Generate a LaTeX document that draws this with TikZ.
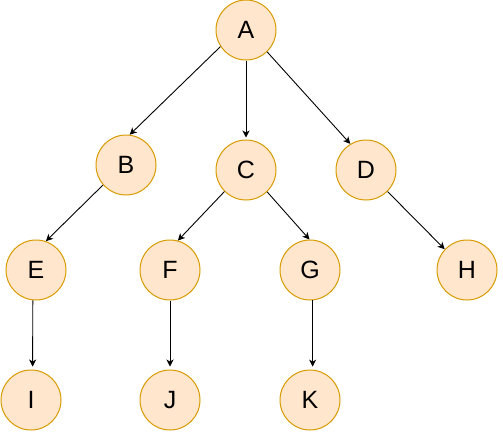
\documentclass[tikz,border=0pt]{standalone}
\usepackage{fontspec}
\setmainfont{Liberation Sans}
\usetikzlibrary{arrows.meta}
\definecolor{nodefill}{HTML}{FFE6CC}
\definecolor{nodeline}{HTML}{D79B00}
\tikzset{
  treenode/.style={circle, draw=nodeline, fill=nodefill, line width=1pt,
    minimum size=60pt, inner sep=0pt, font=\fontsize{25}{25}\selectfont, text depth=0pt},
  link/.style={draw=black, line width=0.9pt, -{Stealth[length=7pt,width=7pt,inset=2pt]}}
}
\begin{document}
\begin{tikzpicture}[x=1pt,y=-1pt]
\useasboundingbox (0,0) rectangle (503,431);
\node[treenode] (A) at (246,30) {A};
\node[treenode] (B) at (126,165) {B};
\node[treenode] (C) at (246,170) {C};
\node[treenode] (D) at (366,170) {D};
\node[treenode] (E) at (36,270) {E};
\node[treenode] (F) at (170,270) {F};
\node[treenode] (G) at (310,270) {G};
\node[treenode] (H) at (467,270) {H};
\node[treenode] (I) at (31,400) {I};
\node[treenode] (J) at (170,400) {J};
\node[treenode] (K) at (310,400) {K};
\draw[link] (A.213) -- (B.83);
\draw[link, shorten >=2pt] (A.south) -- (C.north);
\draw[link] (A.314) -- (D.121);
\draw[link] (B.221) -- (E.71);
\draw[link] (C.225) -- (F.75);
\draw[link] (C.314) -- (G.91);
\draw[link] (D.315) -- (H.137);
\draw[link, shorten >=3pt] (E.264) -- (I.87);
\draw[link, shorten >=3pt] (F.south) -- (J.north);
\draw[link, shorten >=3pt] (G.275) -- (K.85);
\end{tikzpicture}
\end{document}
